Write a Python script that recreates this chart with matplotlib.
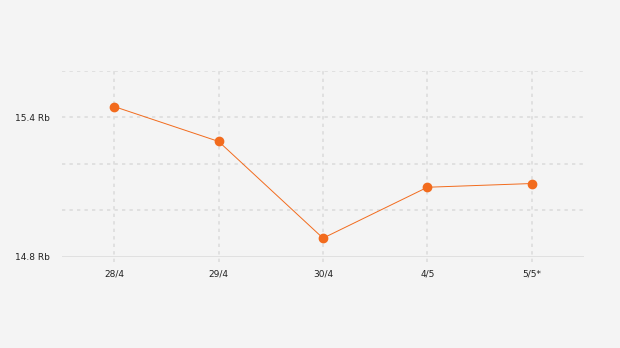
import matplotlib.pyplot as plt

dates = ["28/4", "29/4", "30/4", "4/5", "5/5*"]
values = [15.447, 15.297, 14.881, 15.100, 15.116]
grid_levels = [14.8, 15.0, 15.2, 15.4, 15.6]
tick_levels = [14.8, 15.4]
tick_labels = ["14.8 Rb", "15.4 Rb"]

bg = "#f4f4f4"
orange = "#f26b1d"

fig = plt.figure(figsize=(6.2, 3.48), dpi=100, facecolor=bg)
ax = fig.add_axes([0.1, 0.2615, 0.842, 0.5345], facecolor=bg)

x = list(range(len(dates)))

# horizontal grid
for lv in grid_levels:
    if lv == grid_levels[0]:
        ax.axhline(lv, color="#dcdcdc", lw=1.2, zorder=1)
    else:
        ax.axhline(lv, color="#dcdcdc", lw=1.2, ls=(0, (2, 2.5)), zorder=1)

# vertical grid
for xi in x:
    ax.plot([xi, xi], [14.78, 15.6], color="#dcdcdc", lw=1.2,
            ls=(0, (2, 2.5)), zorder=1, clip_on=False)

ax.plot(x, values, color=orange, lw=0.7, zorder=3)
ax.plot(x, values, "o", color=orange, ms=6, zorder=4)

ax.set_xlim(-0.5, len(dates) - 0.5)
ax.set_ylim(14.8, 15.6)
ax.set_xticks(x)
ax.set_xticklabels(dates)
ax.set_yticks(tick_levels)
ax.set_yticklabels(tick_labels)
ax.tick_params(axis="both", length=0, labelsize=6.5, colors="#222222")
ax.tick_params(axis="y", pad=9)
ax.tick_params(axis="x", pad=9)
for s in ax.spines.values():
    s.set_visible(False)

fig.savefig("out.png", dpi=100, facecolor=bg)
